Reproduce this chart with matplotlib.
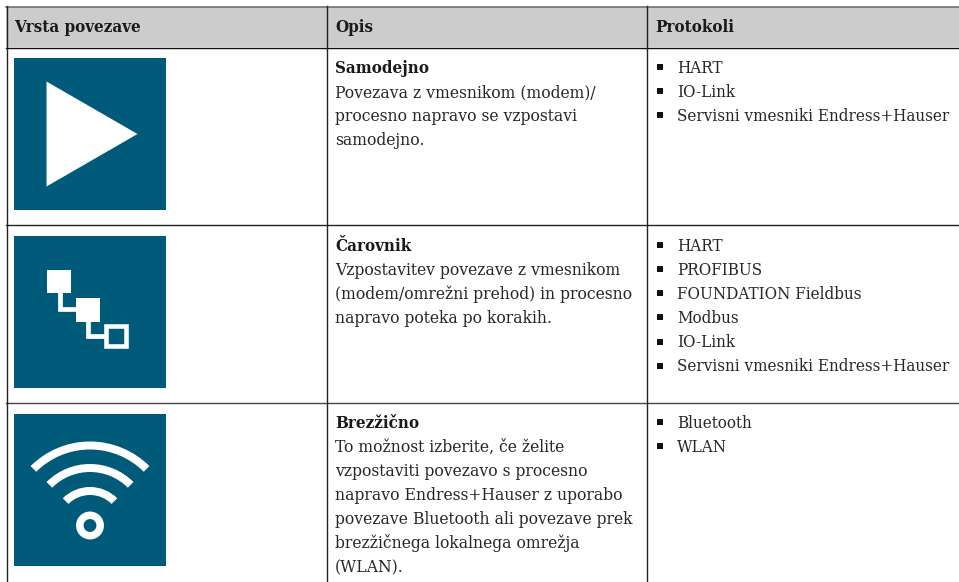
import matplotlib
matplotlib.use('Agg')
import matplotlib.pyplot as plt
from matplotlib.patches import Rectangle, Polygon, Wedge, Circle

headers = ['Vrsta povezave', 'Opis', 'Protokoli']
titles = ['Samodejno', 'Čarovnik', 'Brezžično']
descriptions = [
    ['Povezava z vmesnikom (modem)/', 'procesno napravo se vzpostavi', 'samodejno.'],
    ['Vzpostavitev povezave z vmesnikom', '(modem/omrežni prehod) in procesno', 'napravo poteka po korakih.'],
    ['To možnost izberite, če želite', 'vzpostaviti povezavo s procesno', 'napravo Endress+Hauser z uporabo',
     'povezave Bluetooth ali povezave prek', 'brezžičnega lokalnega omrežja', '(WLAN).'],
]
protocols = [
    ['HART', 'IO-Link', 'Servisni vmesniki Endress+Hauser'],
    ['HART', 'PROFIBUS', 'FOUNDATION Fieldbus', 'Modbus', 'IO-Link', 'Servisni vmesniki Endress+Hauser'],
    ['Bluetooth', 'WLAN'],
]

W, H = 959, 582
BLUE = '#005a7a'
row_base = [73, 251, 428]   # baseline of first line in each row
icon_top = [58, 236, 413.5]
LEAD = 24.05
font = dict(family='DejaVu Serif', stretch='condensed', color='#262626', fontsize=12.2, va='baseline')
desc_font = {**font, 'fontsize': 12.5}
bold = {**font, 'fontweight': 'semibold', 'color': '#1a1a1a'}

fig = plt.figure(figsize=(W / 100, H / 100), dpi=100)
ax = fig.add_axes([0, 0, 1, 1])
ax.set_xlim(0, W)
ax.set_ylim(H, 0)
ax.axis('off')

# header + grid
ax.add_patch(Rectangle((6, 7), W - 6, 40, fc='#cccccc', ec='none'))
ax.plot([6, W], [6.5, 6.5], color='#666666', lw=1.1)
ax.plot([6, W], [47.5, 47.5], color='#111111', lw=1.0)
ax.plot([6, W], [225.3, 225.3], color='#222222', lw=1.0)
ax.plot([6, W], [402.8, 402.8], color='#444444', lw=1.0)
for x in [6.5, 326.5, 646.5]:
    ax.plot([x, x], [6, H], color='#222222', lw=1.0)

for x, h in zip([14, 335, 655], headers):
    ax.text(x, 32, h, **bold)

for base, title, desc, prot in zip(row_base, titles, descriptions, protocols):
    ax.text(335, base, title, **bold)
    for i, line in enumerate(desc):
        ax.text(335, base + (i + 1) * LEAD, line, **desc_font)
    for i, p in enumerate(prot):
        y = base + i * LEAD
        ax.add_patch(Rectangle((656.5, y - 8.7), 6.5, 6, fc='#111111', ec='none'))
        ax.text(677, y, p, **font)

# icon backgrounds
for top in icon_top:
    ax.add_patch(Rectangle((14, top), 152, 152, fc=BLUE, ec='none'))

# play icon
ax.add_patch(Polygon([(46.5, 81.5), (137.5, 134), (46.5, 186.5)], fc='white', ec='none'))

# wizard icon
ax.add_patch(Rectangle((47, 269.5), 24, 23.5, fc='white', ec='none'))
ax.add_patch(Rectangle((75.5, 297.5), 24, 24, fc='white', ec='none'))
ax.add_patch(Rectangle((106.3, 326.3), 19.5, 19.5, fc='none', ec='white', lw=3.3))
ax.plot([59.5, 59.5, 76], [292, 309, 309], color='white', lw=3.4, solid_joinstyle='miter')
ax.plot([87.5, 87.5, 105], [321, 336, 336], color='white', lw=3.4, solid_joinstyle='miter')

# wifi icon
cx, cy = 90, 525.5
for r in [84, 61.5, 38.5]:
    ax.add_patch(Wedge((cx, cy), r, 225, 315, width=8, fc='white', ec='none'))
ax.add_patch(Circle((cx, cy), 10.2, fc='none', ec='white', lw=5.4))

fig.savefig('out.png', dpi=100)
